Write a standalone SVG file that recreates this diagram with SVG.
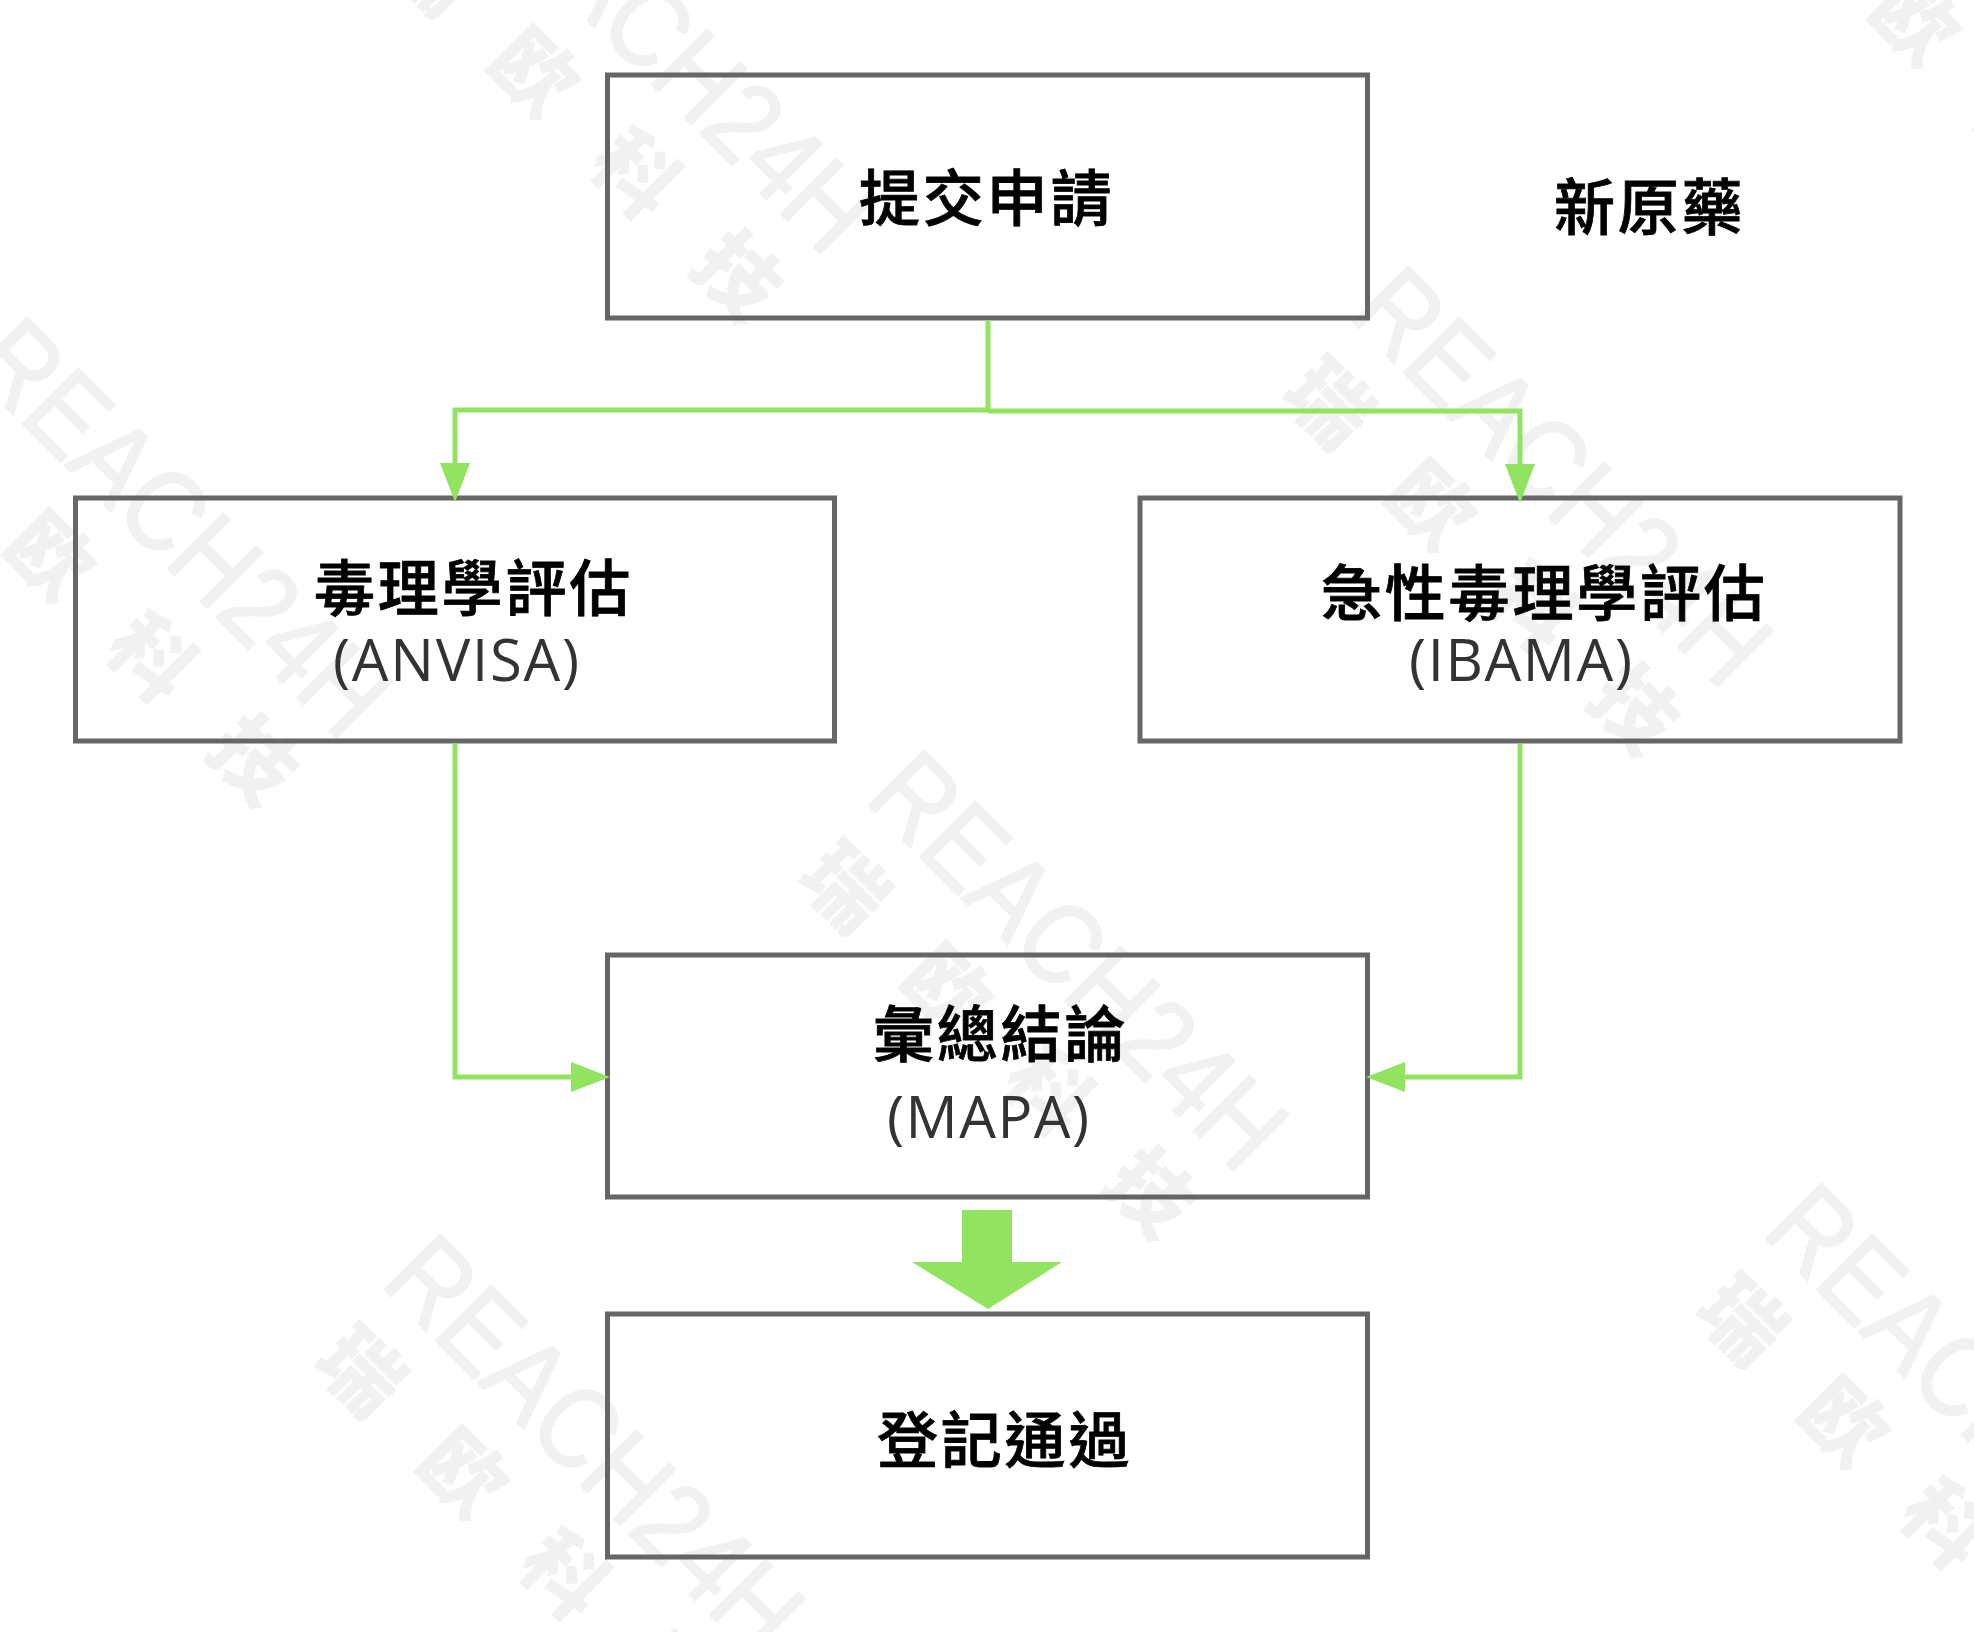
<svg xmlns="http://www.w3.org/2000/svg" width="1974" height="1632" viewBox="0 0 1974 1632">
<style>
.box{fill:none;stroke:#666;stroke-width:5}
.zh{font-family:"Noto Sans CJK TC","Noto Sans CJK SC",sans-serif;font-size:61px;font-weight:500;letter-spacing:2.8px;fill:#000;stroke:#000;stroke-width:.8}
.en{font-family:"Open Sans","Noto Sans",sans-serif;font-size:58px;fill:#333}
.wl{font-family:"Liberation Sans",Arial,sans-serif;font-size:114px;fill:#dedede;stroke:#dedede;stroke-width:2;opacity:.4}
.wc{font-family:"Noto Sans CJK SC",sans-serif;font-size:82px;font-weight:900;letter-spacing:62px;fill:#dedede;opacity:.4}
.ln{fill:none;stroke:#92e35f;stroke-width:5}
</style>
<defs>
<marker id="ah" markerUnits="userSpaceOnUse" viewBox="0 0 39 30" refX="1" refY="15" markerWidth="39" markerHeight="30" orient="auto"><path d="M0 0L39 15L0 30Z" fill="#92e35f"/></marker>
</defs>
<rect width="1974" height="1632" fill="#fff"/>
<g id="watermarks">
<g transform="translate(863 800) rotate(45)"><text class="wl" textLength="532" lengthAdjust="spacingAndGlyphs">REACH24H</text><text class="wc" x="8" y="104">瑞欧科技</text></g>
<g transform="translate(1347 316) rotate(45)"><text class="wl" textLength="532" lengthAdjust="spacingAndGlyphs">REACH24H</text><text class="wc" x="8" y="104">瑞欧科技</text></g>
<g transform="translate(379 1284) rotate(45)"><text class="wl" textLength="532" lengthAdjust="spacingAndGlyphs">REACH24H</text><text class="wc" x="8" y="104">瑞欧科技</text></g>
<g transform="translate(1760 1233) rotate(45)"><text class="wl" textLength="532" lengthAdjust="spacingAndGlyphs">REACH24H</text><text class="wc" x="8" y="104">瑞欧科技</text></g>
<g transform="translate(-34 367) rotate(45)"><text class="wl" textLength="532" lengthAdjust="spacingAndGlyphs">REACH24H</text><text class="wc" x="8" y="104">瑞欧科技</text></g>
<g transform="translate(450 -117) rotate(45)"><text class="wl" textLength="532" lengthAdjust="spacingAndGlyphs">REACH24H</text><text class="wc" x="8" y="104">瑞欧科技</text></g>
<g transform="translate(1831 -168) rotate(45)"><text class="wl" textLength="532" lengthAdjust="spacingAndGlyphs">REACH24H</text><text class="wc" x="8" y="104">瑞欧科技</text></g>
</g>
<g id="submit"><rect class="box" x="607.5" y="75" width="760" height="243"/><text class="zh" x="859" y="221">提交申請</text></g>
<g id="drug-type"><text class="zh" x="1554" y="230">新原藥</text></g>
<g id="toxicology"><rect class="box" x="75.5" y="498" width="759" height="243"/><text class="zh" x="314" y="611">毒理學評估</text><text class="en" x="333" y="681" textLength="246">(ANVISA)</text></g>
<g id="acute"><rect class="box" x="1140" y="498" width="760" height="243"/><text class="zh" x="1321" y="616">急性毒理學評估</text><text class="en" x="1409" y="681" textLength="223">(IBAMA)</text></g>
<g id="summary"><rect class="box" x="607.5" y="955" width="760" height="242"/><text class="zh" x="873" y="1057">彙總結論</text><text class="en" x="887" y="1138" textLength="202">(MAPA)</text></g>
<g id="registered"><rect class="box" x="607.5" y="1314" width="760" height="243"/><text class="zh" x="877" y="1463">登記通過</text></g>
<g id="connectors">
<path class="ln" d="M988 320V410H455V464" marker-end="url(#ah)"/>
<path class="ln" d="M988 411H1520V465" marker-end="url(#ah)"/>
<path class="ln" d="M455 743V1077H572" marker-end="url(#ah)"/>
<path class="ln" d="M1520 743V1077H1404" marker-end="url(#ah)"/>
<polygon points="962,1210 1012,1210 1012,1262 1062,1262 988,1309 912,1262 962,1262" fill="#92e35f"/>
</g>
</svg>
